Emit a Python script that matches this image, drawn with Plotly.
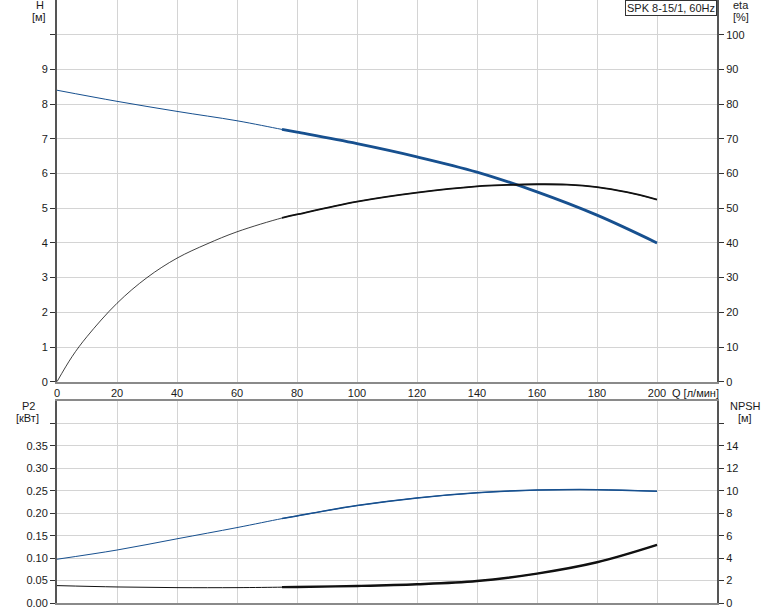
import plotly.graph_objects as go

# ---------------- data ----------------
Q_H = [0, 20, 40, 60, 75, 80, 100, 120, 140, 160, 180, 200]
H = [8.40, 8.08, 7.79, 7.52, 7.27, 7.19, 6.86, 6.48, 6.04, 5.47, 4.80, 4.00]

Q_eta = [0, 5, 10, 20, 30, 40, 50, 60, 75, 80, 100, 120, 140, 150, 160, 170, 180, 190, 200]
eta = [0, 7.2, 13.0, 22.6, 30.0, 35.6, 39.7, 43.2, 47.2, 48.2, 51.9, 54.5, 56.3, 56.7, 56.9, 56.8, 56.1, 54.6, 52.5]

Q_P2 = [0, 20, 40, 60, 75, 80, 100, 120, 140, 160, 180, 200]
P2 = [0.0975, 0.118, 0.143, 0.168, 0.188, 0.194, 0.217, 0.234, 0.2455, 0.2515, 0.2525, 0.249]

Q_NPSH = [0, 20, 40, 60, 75, 80, 100, 120, 140, 160, 180, 200]
NPSH = [1.55, 1.43, 1.37, 1.37, 1.41, 1.43, 1.52, 1.67, 1.96, 2.62, 3.63, 5.18]

Q_SPLIT = 75  # start of the bold (operating) part of each curve

x_ticks = [0, 20, 40, 60, 80, 100, 120, 140, 160, 180, 200]
H_ticks = [0, 1, 2, 3, 4, 5, 6, 7, 8, 9, 10]
eta_ticks = [0, 10, 20, 30, 40, 50, 60, 70, 80, 90, 100]
P2_ticks = [0.00, 0.05, 0.10, 0.15, 0.20, 0.25, 0.30, 0.35, 0.40]
NPSH_ticks = [0, 2, 4, 6, 8, 10, 12, 14, 16]

TITLE = "SPK 8-15/1, 60Hz"

BLUE = "#17508f"
BLACK = "#111111"
GRID = "#d4d4d4"
TXT = "#1a1a1a"
FONT = "Liberation Sans, Arial, sans-serif"

fig = go.Figure()


def add_curve(xs, ys, color, w_thin, w_thick, xa, ya):
    # thin line over the whole range, bold line over the operating range on top
    fig.add_trace(go.Scatter(x=xs, y=ys, mode="lines", xaxis=xa, yaxis=ya,
                             line=dict(color=color, width=w_thin, shape="spline", smoothing=1.0),
                             showlegend=False, hoverinfo="skip"))
    x2 = [x for x in xs if x >= Q_SPLIT]
    y2 = [y for x, y in zip(xs, ys) if x >= Q_SPLIT]
    fig.add_trace(go.Scatter(x=x2, y=y2, mode="lines", xaxis=xa, yaxis=ya,
                             line=dict(color=color, width=w_thick, shape="spline", smoothing=1.0),
                             showlegend=False, hoverinfo="skip"))


add_curve(Q_eta, eta, BLACK, 0.8, 1.8, "x", "y2")
add_curve(Q_H, H, BLUE, 1.0, 2.8, "x", "y")
add_curve(Q_NPSH, NPSH, BLACK, 1.0, 2.4, "x2", "y4")
add_curve(Q_P2, P2, BLUE, 1.0, 1.5, "x2", "y3")

tickfont = dict(family=FONT, size=11, color=TXT)

common_x = dict(range=[0, 220], tickvals=x_ticks, showgrid=True, gridcolor=GRID, gridwidth=1,
                zeroline=False, showline=True, linecolor="#8a8a8a", linewidth=2,
                tickfont=tickfont, ticks="", fixedrange=True, automargin=False)

common_y = dict(zeroline=False, showline=True, linecolor="#555555", linewidth=2,
                ticks="outside", ticklen=5, tickcolor="#333333",
                tickfont=tickfont, automargin=False)

fig.update_layout(
    width=774, height=611,
    margin=dict(l=57, r=57, t=0, b=8, autoexpand=False),
    paper_bgcolor="white", plot_bgcolor="white",
    font=dict(family=FONT, size=11, color=TXT),
    xaxis=dict(common_x, anchor="y", domain=[0, 1],
               ticktext=[str(v) for v in x_ticks]),
    yaxis=dict(common_y, domain=[0.367, 1.0], range=[0, 11], tickvals=H_ticks,
               ticktext=[str(v) for v in H_ticks[:-1]] + [""],
               showgrid=True, gridcolor=GRID, anchor="x"),
    yaxis2=dict(common_y, overlaying="y", side="right", range=[0, 110], tickvals=eta_ticks,
                showgrid=False, anchor="x"),
    xaxis2=dict(common_x, anchor="y3", domain=[0, 1], showticklabels=False, mirror=True),
    yaxis3=dict(common_y, domain=[0.0, 0.335], range=[0, 0.45], tickvals=P2_ticks,
                ticktext=["%.2f" % v for v in P2_ticks[:-1]] + [""],
                showgrid=True, gridcolor=GRID, anchor="x2"),
    yaxis4=dict(common_y, overlaying="y3", side="right", range=[0, 18], tickvals=NPSH_ticks,
                ticktext=[str(v) for v in NPSH_ticks[:-1]] + [""],
                showgrid=False, anchor="x2"),
)

W, Hh = 774, 611
L, R, T, B = 57, 57, 0, 8
PW, PH = W - L - R, Hh - T - B


def px(x):
    return (x - L) / PW


def py(y):
    return (Hh - B - y) / PH


def label(text, x, y, xanchor="center"):
    fig.add_annotation(text=text, x=px(x), y=py(y), xref="paper", yref="paper",
                       showarrow=False, xanchor=xanchor, yanchor="middle",
                       font=dict(family=FONT, size=11, color=TXT))


label("H", 40, 5)
label("[м]", 39, 17)
label("eta", 741, 5)
label("[%]", 741, 17)
label("P2", 28, 406)
label("[кВт]", 27, 418)
label("NPSH", 745, 406)
label("[м]", 745, 418)
label("Q [л/мин]", 670, 393, xanchor="left")

fig.add_annotation(text=TITLE, x=1, y=1, xref="paper", yref="paper", showarrow=False,
                   xanchor="right", yanchor="top", bordercolor="#333333", borderwidth=1,
                   borderpad=1, bgcolor="white",
                   font=dict(family=FONT, size=11, color=TXT))

fig.write_html("out.html", config={"displayModeBar": False},
               post_script="document.body.style.margin='0';document.body.style.overflow='hidden';")
